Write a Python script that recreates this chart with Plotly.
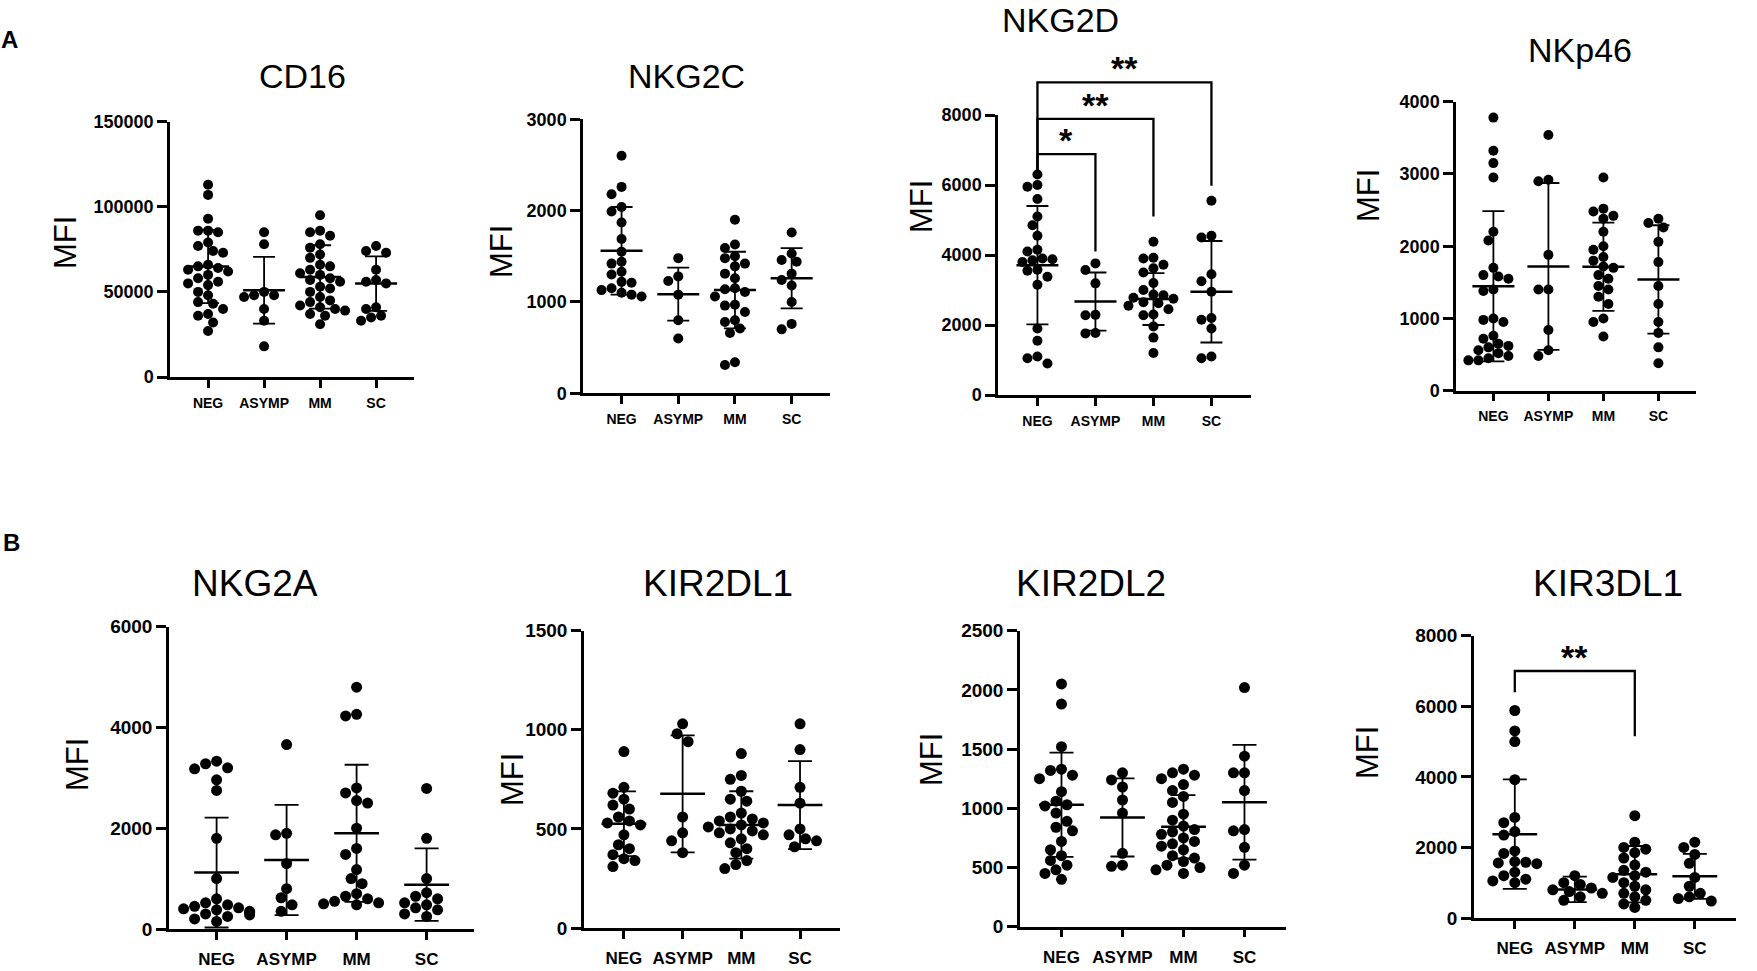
import plotly.graph_objects as go
import numpy as np

groups = ["NEG", "ASYMP", "MM", "SC"]
titles = ["CD16", "NKG2C", "NKG2D", "NKp46", "NKG2A", "KIR2DL1", "KIR2DL2", "KIR3DL1"]
y_top = [150000, 3000, 8000, 4000, 6000, 1500, 2500, 8000]
y_step = [50000, 1000, 2000, 1000, 2000, 500, 500, 2000]

# MFI per donor, one list per group (NEG, ASYMP, MM, SC)
cd16 = [
    [113000, 107000, 93000, 86000, 86000, 85000, 79000, 77000, 74000, 73000, 66000, 65000, 64000, 63000, 62000,
     60000, 58000, 56000, 55000, 54000, 50000, 48000, 44000, 43000, 40000, 37000, 36000, 32000, 27000],
    [85000, 78000, 50000, 48000, 48000, 47000, 40000, 33000, 18000],
    [95000, 86000, 85000, 83000, 78000, 76000, 72000, 70000, 66000, 65000, 63000, 61000, 60000, 58000, 57000,
     56000, 53000, 52000, 50000, 47000, 45000, 44000, 42000, 41000, 40000, 39000, 37000, 36000, 31000],
    [77000, 74000, 73000, 63000, 57000, 56000, 55000, 41000, 40000, 36000, 35000, 33000],
]
nkg2c = [
    [2600, 2260, 2180, 2040, 1990, 1870, 1690, 1550, 1440, 1420, 1330, 1300, 1220, 1210, 1150, 1130, 1100, 1080, 1060],
    [1480, 1280, 1230, 1080, 800, 600],
    [1900, 1630, 1590, 1500, 1480, 1420, 1390, 1310, 1260, 1150, 1140, 1110, 1060, 970, 960, 890, 800, 780, 710,
     660, 340, 310],
    [1760, 1530, 1460, 1440, 1310, 1240, 1180, 1000, 760, 700],
]
nkg2d = [
    [6300, 6000, 5950, 5600, 5100, 4850, 4550, 4150, 4100, 3900, 3880, 3850, 3800, 3580, 3550, 3380, 3150, 1900,
     1550, 1100, 1050, 900],
    [3760, 3570, 3190, 2290, 2280, 1770, 1760],
    [4380, 3920, 3900, 3720, 3620, 3500, 3200, 3000, 2870, 2850, 2780, 2750, 2650, 2620, 2550, 2450, 2300, 2280,
     1960, 1640, 1200],
    [5550, 4550, 4500, 3450, 3250, 2950, 2200, 2150, 1900, 1100, 1050],
]
nkp46 = [
    [3780, 3320, 3150, 2950, 2200, 2080, 1700, 1600, 1580, 1550, 1400, 1380, 1000, 980, 950, 760, 720, 650, 620,
     600, 560, 520, 480, 450, 420, 420],
    [3540, 2920, 2900, 1880, 1400, 1400, 840, 560, 480],
    [2950, 2520, 2480, 2420, 2380, 2200, 2000, 1950, 1850, 1800, 1720, 1700, 1600, 1550, 1450, 1400, 1300, 1200,
     1000, 950, 750],
    [2380, 2320, 2260, 2060, 1780, 1450, 1200, 950, 800, 600, 380],
]
nkg2a = [
    [3330, 3280, 3200, 3180, 2960, 2750, 1800, 1000, 600, 520, 480, 450, 420, 400, 380, 350, 330, 300, 280, 250,
     200, 150],
    [3660, 1900, 1870, 1300, 800, 620, 480, 350],
    [4800, 4260, 4230, 2800, 2700, 2550, 2500, 2000, 1600, 1480, 1180, 1000, 900, 700, 650, 600, 550, 520, 500, 480],
    [2790, 1800, 1000, 720, 650, 600, 520, 480, 420, 380, 300, 250],
]
kir2dl1 = [
    [890, 710, 680, 650, 620, 600, 560, 540, 530, 520, 470, 420, 400, 370, 350, 340, 310],
    [1030, 980, 940, 560, 480, 440, 380],
    [880, 770, 750, 690, 650, 640, 580, 560, 550, 540, 530, 520, 510, 500, 490, 480, 470, 450, 430, 400, 380, 340,
     320, 300],
    [1030, 900, 710, 630, 500, 470, 450, 440, 410],
]
kir2dl2 = [
    [2050, 1880, 1520, 1330, 1320, 1280, 1250, 1140, 1060, 1030, 1020, 960, 890, 840, 810, 720, 650, 600, 560, 520,
     480, 450, 400],
    [1300, 1240, 1180, 1070, 960, 620, 520, 510],
    [1330, 1300, 1280, 1250, 1200, 1150, 1100, 1050, 950, 900, 850, 820, 800, 780, 750, 720, 700, 680, 650, 600,
     580, 550, 520, 500, 480, 450],
    [2020, 1440, 1300, 1300, 1150, 820, 810, 670, 520, 450],
]
kir3dl1 = [
    [5880, 5300, 5000, 3920, 2850, 2700, 2450, 2350, 1900, 1830, 1600, 1580, 1560, 1540, 1300, 1200, 1100, 1050, 1000],
    [1200, 1000, 950, 850, 800, 750, 700, 600, 500],
    [2900, 2150, 2000, 1950, 1850, 1700, 1500, 1350, 1300, 1200, 1150, 1000, 900, 800, 700, 600, 500, 400, 300],
    [2150, 2000, 1800, 1550, 1150, 900, 700, 600, 550, 480],
]

# mean and SD as drawn
cd16_mean, cd16_sd = [64900, 51000, 58800, 54900], [21500, 19600, 18600, 16000]
nkg2c_mean, nkg2c_sd = [1560, 1085, 1130, 1260], [480, 290, 420, 330]
nkg2d_mean, nkg2d_sd = [3710, 2670, 2740, 2950], [1690, 830, 740, 1450]
nkp46_mean, nkp46_sd = [1445, 1720, 1715, 1540], [1040, 1155, 610, 750]
nkg2a_mean, nkg2a_sd = [1120, 1370, 1900, 880], [1090, 1095, 1360, 720]
kir2dl1_mean, kir2dl1_sd = [526, 677, 520, 620], [163, 295, 170, 222]
kir2dl2_mean, kir2dl2_sd = [1030, 923, 844, 1051], [440, 330, 268, 485]
kir3dl1_mean, kir3dl1_sd = [2376, 810, 1240, 1180], [1552, 360, 800, 640]

# significance brackets
sig_panel = [2, 2, 2, 7]
sig_a = [0, 0, 0, 0]
sig_b = [1, 2, 3, 2]
sig_text = ["*", "**", "**", "**"]
sig_bar = [6880, 7890, 8930, 7000]
sig_left = [6380, 6380, 6380, 6400]
sig_right = [4100, 5100, 5980, 5150]

panels = [cd16, nkg2c, nkg2d, nkp46, nkg2a, kir2dl1, kir2dl2, kir3dl1]
means = [cd16_mean, nkg2c_mean, nkg2d_mean, nkp46_mean, nkg2a_mean, kir2dl1_mean, kir2dl2_mean, kir3dl1_mean]
sds = [cd16_sd, nkg2c_sd, nkg2d_sd, nkp46_sd, nkg2a_sd, kir2dl1_sd, kir2dl2_sd, kir3dl1_sd]

W, H = 1757, 971
# panel placement in pixels
ax_x = [170, 583, 998, 1456, 169, 584, 1020, 1474]
cat_w = [56, 56.7, 58, 55, 70, 58.7, 61, 60]
top_y = [121.7, 119.3, 115, 101.7, 626.7, 630.7, 630.7, 635.7]
zero_y = [377, 393.3, 395, 390.7, 929, 928, 926.7, 918]
title_xy = [(302, 76), (686, 76), (1060, 20), (1580, 50), (255, 583), (718, 583), (1091, 583), (1608, 583)]
mfi_xy = [(66, 243), (501, 252), (922, 207), (1368, 196), (77, 765), (512, 780), (931, 760), (1367, 753)]
XR = [-0.68, 3.68]
FONT = "Liberation Sans"


def swarm(vals, ppv, ppc, d):
    y = np.asarray(vals, float) * ppv
    offs = np.zeros(len(y))
    placed = []
    cands = [0, -0.5, 0.5, -1, 1, -1.5, 1.5, -2, 2, -2.5, 2.5, -3, 3]
    for i in np.argsort(-y):
        for c in cands:
            x = c * d
            if all((x - px) ** 2 + (y[i] - py) ** 2 >= (0.92 * d) ** 2 for px, py in placed):
                break
        placed.append((x, y[i]))
        offs[i] = x / ppc
    return offs


fig = go.Figure()
layout = dict(width=W, height=H, margin=dict(l=0, r=0, t=0, b=0, pad=0, autoexpand=False), showlegend=False,
              plot_bgcolor="rgba(0,0,0,0)", paper_bgcolor="white", font=dict(family=FONT, color="black"))
annotations = []

for p in range(8):
    n = p + 1
    top_row = p < 4
    ppv = (zero_y[p] - top_y[p]) / y_top[p]
    msize = 10 if top_row else 11
    tick_fs = 18 if top_row else 19
    cat_fs = 14 if top_row else 17
    x0 = ax_x[p]
    x1 = x0 + (XR[1] - XR[0]) * cat_w[p]
    layout[f"xaxis{n}"] = dict(
        domain=[x0 / W, x1 / W], anchor=f"y{n}", range=XR, tickvals=[0, 1, 2, 3], ticktext=groups,
        showline=True, linewidth=2.5, linecolor="black", ticks="outside", ticklen=8, tickwidth=2.5,
        tickcolor="black", showgrid=False, zeroline=False, automargin=False,
        ticklabelstandoff=3 if top_row else 5,
        tickfont=dict(size=cat_fs, weight="bold", family=FONT))
    layout[f"yaxis{n}"] = dict(
        domain=[1 - zero_y[p] / H, 1 - top_y[p] / H], anchor=f"x{n}", range=[0, y_top[p]],
        tickvals=list(range(0, y_top[p] + 1, y_step[p])), tickformat="d",
        showline=True, linewidth=2.5, linecolor="black", ticks="outside", ticklen=10, tickwidth=2.5,
        tickcolor="black", showgrid=False, zeroline=False, automargin=False,
        tickfont=dict(size=tick_fs, weight="bold", family=FONT))

    for g in range(4):
        vals = panels[p][g]
        offs = swarm(vals, ppv, cat_w[p], msize)
        fig.add_trace(go.Scatter(
            x=g + offs, y=vals, mode="markers", xaxis=f"x{n}", yaxis=f"y{n}", cliponaxis=False,
            marker=dict(symbol="circle", size=msize, color="black", line=dict(width=0))))

    fig.add_trace(go.Scatter(
        x=[0, 1, 2, 3], y=means[p], mode="markers", xaxis=f"x{n}", yaxis=f"y{n}", cliponaxis=False,
        marker=dict(symbol="line-ew-open", size=30 if top_row else 32, color="black",
                    line=dict(width=2.5, color="black")),
        error_y=dict(type="data", array=sds[p], visible=True, color="black", thickness=1.8,
                     width=11 if top_row else 12)))

    tx, ty = title_xy[p]
    annotations.append(dict(text=titles[p], x=tx / W, y=1 - ty / H, xref="paper", yref="paper",
                            showarrow=False, xanchor="center", yanchor="middle",
                            font=dict(size=34 if top_row else 37, family=FONT)))
    mx, my = mfi_xy[p]
    annotations.append(dict(text="MFI", x=mx / W, y=1 - my / H, xref="paper", yref="paper", textangle=-90,
                            showarrow=False, xanchor="center", yanchor="middle",
                            font=dict(size=31, family=FONT)))

# bracket axes (same scale, taller domain so brackets can sit above the top tick)
extra = {}
for k, p in enumerate(sig_panel):
    if p not in extra:
        n = p + 1
        ppv = (zero_y[p] - top_y[p]) / y_top[p]
        rtop = max(b for q, b in zip(sig_panel, sig_bar) if q == p) * 1.06
        rtop = max(rtop, y_top[p])
        yid = 9 + len(extra)
        extra[p] = yid
        layout[f"yaxis{yid}"] = dict(domain=[1 - zero_y[p] / H, 1 - (zero_y[p] - rtop * ppv) / H],
                                     anchor=f"x{n}", range=[0, rtop], visible=False, automargin=False)
    yid = extra[p]
    a, b = sig_a[k], sig_b[k]
    fig.add_trace(go.Scatter(
        x=[a, a, b, b], y=[sig_left[k], sig_bar[k], sig_bar[k], sig_right[k]], mode="lines",
        xaxis=f"x{p + 1}", yaxis=f"y{yid}", line=dict(color="black", width=2.3)))
    annotations.append(dict(text=sig_text[k], x=(a + b) / 2, y=sig_bar[k], xref=f"x{p + 1}", yref=f"y{yid}",
                            showarrow=False, xanchor="center", yanchor="bottom", yshift=-7,
                            font=dict(size=34, weight="bold", family=FONT)))

annotations.append(dict(text="A", x=9 / W, y=1 - 39 / H, xref="paper", yref="paper", showarrow=False,
                        xanchor="center", yanchor="middle", font=dict(size=24, weight="bold", family=FONT)))
annotations.append(dict(text="B", x=11 / W, y=1 - 542 / H, xref="paper", yref="paper", showarrow=False,
                        xanchor="center", yanchor="middle", font=dict(size=24, weight="bold", family=FONT)))

layout["annotations"] = annotations
fig.update_layout(**layout)

# pin the figure to the top-left corner of the page
pin = ("document.documentElement.style.overflow='hidden';document.body.style.margin='0';"
       "document.body.style.overflow='hidden';var gd=document.getElementById('{plot_id}');"
       "gd.style.position='fixed';gd.style.left='0px';gd.style.top='0px';")
fig.write_html("out.html", config={"displayModeBar": False}, post_script=pin)
